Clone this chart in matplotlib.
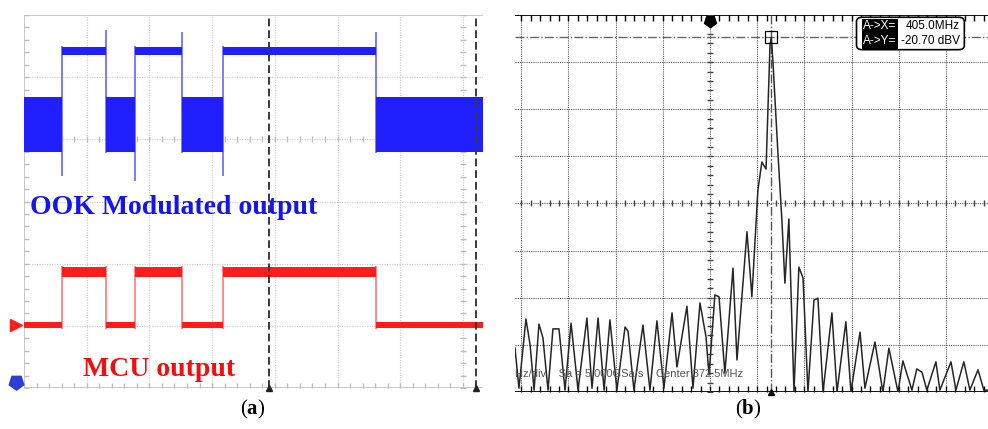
import matplotlib
matplotlib.use('Agg')
import matplotlib.pyplot as plt
import numpy as np
from matplotlib.patches import FancyBboxPatch

plt.rcParams['mathtext.fontset'] = 'custom'
plt.rcParams['mathtext.rm'] = 'Liberation Serif'
plt.rcParams['mathtext.bf'] = 'Liberation Serif:bold'

# ---------------- panel (a): time traces, units = screen divisions ----------------
edges = [0.0, 0.606, 1.308, 1.770, 2.520, 3.174, 5.614, 7.32]
mcu_high = [0, 1, 0, 1, 0, 1, 0]          # 1 = MCU high / carrier off
ook_high_band = (5.35, 5.48)
ook_burst_band = (3.79, 4.68)
mcu_high_band = (1.78, 1.95)
mcu_low_band = (0.96, 1.06)
spike_end = [3.42, 5.74, 3.34, 5.71, 3.42, 5.71]   # overshoot at each edge
cursor_a = [3.907, 7.209]

# ---------------- panel (b): spectrum ----------------
spec_freq = [269.2, 271.3, 275.0, 277.2, 279.3, 281.9, 284.0, 286.7, 289.3, 292.5,
             295.7, 298.9, 302.6, 307.3, 310.0, 313.2, 316.4, 319.5, 323.2, 327.5,
             329.1, 332.2, 337.0, 340.7, 344.4, 348.1, 352.4, 355.0, 360.3, 363.5,
             367.2, 370.4, 372.0, 375.1, 377.3, 380.4, 384.7, 386.8, 392.1, 394.7,
             397.9, 400.0, 402.2, 404.3, 405.0, 405.9, 408.5, 410.6, 412.2, 414.3,
             417.0, 419.6, 421.8, 424.4, 427.6, 429.7, 432.4, 437.1, 439.8, 444.5,
             447.2, 452.0, 454.6, 459.9, 464.1, 467.3, 472.1, 474.7, 479.5, 482.1,
             484.8, 487.4, 492.2, 494.3, 500.2, 502.8, 507.0, 510.2, 514.5, 517.6,
             519.8]
spec_dbv = [-86.7, -95.2, -80.5, -86.0, -95.6, -81.6, -84.5, -95.6, -82.6, -82.6,
            -95.6, -81.4, -95.6, -80.3, -95.2, -80.3, -95.6, -80.7, -95.6, -82.2,
            -83.1, -95.6, -81.8, -95.6, -80.9, -95.2, -79.2, -90.7, -77.8, -95.2,
            -77.1, -84.3, -92.4, -75.4, -75.8, -92.0, -69.7, -89.2, -62.0, -75.8,
            -53.1, -47.2, -48.7, -22.4, -20.7, -26.2, -45.3, -59.5, -72.9, -59.3,
            -96.0, -69.5, -71.8, -96.0, -76.5, -76.1, -96.0, -79.2, -96.0, -81.1,
            -96.0, -83.3, -95.2, -85.4, -96.0, -86.7, -96.0, -89.4, -95.6, -91.1,
            -91.8, -95.6, -89.6, -95.6, -89.6, -95.6, -89.6, -95.6, -91.3, -95.6,
            -95.6]
peak_freq, peak_dbv = 405.0, -20.70
center_freq, mhz_div, db_div = 372.5, 25.0, 10.0
f_lo, f_hi = 269.2, 519.8
db_lo, db_hi = -96.0, -16.0

fig = plt.figure(figsize=(9.88, 4.29), dpi=100)

# ============================================================
# Panel (a)
# ============================================================
ax1 = fig.add_axes([24/988, 41/429, 459/988, 373/429])
ax1.set_xlim(0, 7.32)
ax1.set_ylim(0, 6)
ax1.axis('off')

gcol = '#d0d0d0'
for x in range(1, 8):
    ax1.axvline(x, color=gcol, lw=0.9, ls=(0, (1, 1)), zorder=1)
for y in range(1, 6):
    ax1.axhline(y, color=gcol, lw=0.9, ls=(0, (1, 1)), zorder=1)
ax1.axhline(0, color='#c0c0c0', lw=1.2, zorder=1)
ax1.axhline(6, color='#c0c0c0', lw=1.2, zorder=1)
ax1.axvline(0, color='#c0c0c0', lw=1.2, zorder=1)
minor = np.arange(0, 7.32, 0.2)
minor_y = np.arange(0, 6.01, 0.2)
tcol = '#bdbdbd'
ax1.plot(minor, np.full(len(minor), 4.0), ls='none', marker='|', ms=4, color=tcol, zorder=1)
ax1.plot(minor, np.zeros(len(minor)), ls='none', marker=2, ms=3.5, color=tcol, zorder=1)
ax1.plot(np.zeros(len(minor_y)), minor_y, ls='none', marker=1, ms=3.5, color=tcol, zorder=1)
ax1.plot(np.full(len(minor_y), 7.0), minor_y, ls='none', marker='_', ms=4, color=tcol, zorder=1)

blue, blue_l = '#1f1fff', '#7a7aff'
red, red_l = '#ff1c1c', '#ff8a8a'
for i, st in enumerate(mcu_high):
    x0, x1 = edges[i], edges[i + 1]
    if st:
        ax1.fill_between([x0, x1], *ook_high_band, color=blue, lw=0, zorder=3)
        ax1.fill_between([x0, x1], *mcu_high_band, color=red, lw=0, zorder=3)
    else:
        ax1.fill_between([x0, x1], *ook_burst_band, color=blue, lw=0, zorder=3)
        ax1.fill_between([x0, x1], *mcu_low_band, color=red, lw=0, zorder=3)

for k, xe in enumerate(edges[1:-1]):
    rising = mcu_high[k + 1] == 1
    if rising:
        ax1.plot([xe, xe], [spike_end[k], ook_high_band[1]], color=blue_l, lw=1.4, zorder=2)
    else:
        ax1.plot([xe, xe], [spike_end[k], ook_burst_band[0]], color=blue_l, lw=1.4, zorder=2)
    ax1.plot([xe, xe], [mcu_low_band[0], mcu_high_band[1]], color=red_l, lw=1.4, zorder=2)

for xc in cursor_a:
    ax1.axvline(xc, color='#3a3a3a', lw=1.4, ls=(0, (4, 2)), zorder=4)
    ax1.plot(xc, 0, marker='^', ms=5, color='#222222', clip_on=False, zorder=5)

ax1.plot(-0.12, 1.01, marker='>', ms=9, color=red, clip_on=False, zorder=5)
ax1.plot(-0.12, 0.10, marker=(5, 0, 180), ms=11, color='#2a3fd6', clip_on=False, zorder=5)

ax1.text(0.096, 2.80, 'OOK Modulated output', color='#1414ee', fontsize=20,
         fontweight='bold', family='Liberation Serif', va='baseline', zorder=6)
ax1.text(0.94, 0.19, 'MCU output', color='#ee1010', fontsize=20,
         fontweight='bold', family='Liberation Serif', va='baseline', zorder=6)

# ============================================================
# Panel (b)
# ============================================================
ax2 = fig.add_axes([515/988, 37/429, 473/988, 377/429])
ax2.set_xlim(f_lo, f_hi)
ax2.set_ylim(db_lo, db_hi)
ax2.axis('off')

grid_f = center_freq + mhz_div * np.arange(-4, 7)
grid_db = db_lo + db_div * np.arange(1, 8)
for f in grid_f:
    ax2.axvline(f, color='#5a5a5a', lw=0.8, ls=(0, (1, 1)), zorder=1)
for d in grid_db:
    ax2.axhline(d, color='#5a5a5a', lw=0.8, ls=(0, (1, 1)), zorder=1)
ax2.axhline(db_hi, color='black', lw=1.3, zorder=2)
ax2.axhline(db_lo, color='black', lw=1.3, zorder=2)

tf = np.arange(grid_f[0], f_hi, mhz_div / 5)
td = np.arange(db_lo, db_hi + 0.1, db_div / 5)
ax2.plot(tf, np.full(len(tf), db_hi), ls='none', marker=3, ms=4, color='black', zorder=2)
ax2.plot(tf, np.full(len(tf), db_lo), ls='none', marker=2, ms=4, color='black', zorder=2)
ax2.plot(tf, np.full(len(tf), -56.0), ls='none', marker='|', ms=4, color='#444444', zorder=2)
ax2.plot(np.full(len(td), center_freq), td, ls='none', marker='_', ms=4, color='#444444', zorder=2)

# cursors
ax2.axhline(peak_dbv, color='#666666', lw=1.0, ls='-.', zorder=2)
ax2.axvline(peak_freq, color='#555555', lw=1.0, ls='-.', zorder=2)

ax2.plot(spec_freq, spec_dbv, color='#262626', lw=1.1, zorder=3)
ax2.plot(peak_freq, peak_dbv, marker='s', ms=8, mfc='none', mec='black', mew=0.9, zorder=4)
ax2.plot(center_freq, db_hi - 1.2, marker=(5, 0, 180), ms=9, color='black', clip_on=False, zorder=5)
ax2.plot(peak_freq, db_lo, marker='^', ms=4, color='black', clip_on=False, zorder=5)

ax2.text(0.0, 0.048, 'Hz/div    Sa = 5.000GSa/s    Center:372.5MHz', transform=ax2.transAxes,
         fontsize=8, color='#555555', family='Liberation Sans', va='center', ha='left', zorder=4)

box = FancyBboxPatch((0.726, 0.912), 0.220, 0.078, boxstyle='round,pad=0.004,rounding_size=0.012',
                     transform=ax2.transAxes, fc='white', ec='black', lw=1.2, zorder=6)
ax2.add_patch(box)
ax2.text(0.736, 0.970, 'A->X=', transform=ax2.transAxes, fontsize=8.5, color='white',
         family='Liberation Sans', va='center', zorder=7,
         bbox=dict(fc='black', ec='none', pad=1.0))
ax2.text(0.736, 0.930, 'A->Y=', transform=ax2.transAxes, fontsize=8.5, color='white',
         family='Liberation Sans', va='center', zorder=7,
         bbox=dict(fc='black', ec='none', pad=1.0))
ax2.text(0.826, 0.970, f'{peak_freq:.1f}MHz', transform=ax2.transAxes, fontsize=8.5,
         family='Liberation Sans', va='center', zorder=7)
ax2.text(0.816, 0.930, f'{peak_dbv:.2f} dBV', transform=ax2.transAxes, fontsize=8.5,
         family='Liberation Sans', va='center', zorder=7)

# captions
fig.text(253/988, 0.045, r'($\mathbf{a}$)', ha='center', va='center', fontsize=15,
         family='Liberation Serif')
fig.text(748/988, 0.045, r'($\mathbf{b}$)', ha='center', va='center', fontsize=15,
         family='Liberation Serif')

fig.savefig('out.png', dpi=100)
